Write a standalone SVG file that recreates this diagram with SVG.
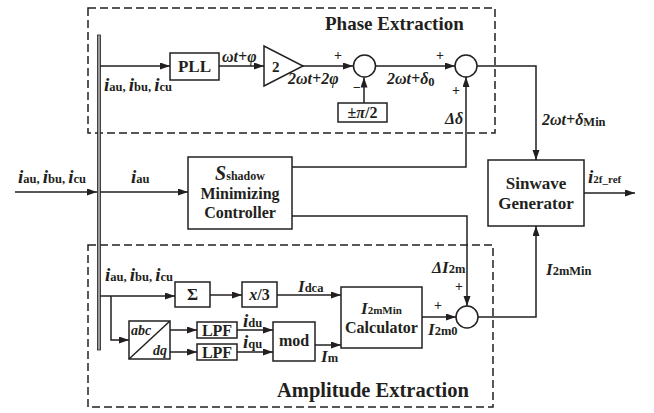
<svg xmlns="http://www.w3.org/2000/svg" width="654" height="413" viewBox="0 0 654 413" font-family="'Liberation Serif', 'Times New Roman', 'DejaVu Serif', serif">
<defs>
<marker id="arr" markerUnits="userSpaceOnUse" markerWidth="11" markerHeight="8" refX="10" refY="3.5" orient="auto">
<path d="M0,0 L10,3.5 L0,7 z" fill="#231f20"/>
</marker>
<style>
.blk{fill:#fff;stroke:#231f20;stroke-width:1.5}
.dash{fill:none;stroke:#231f20;stroke-width:1.5;stroke-dasharray:8 4}
.wire{fill:none;stroke:#231f20;stroke-width:1.5}
.arw{fill:none;stroke:#231f20;stroke-width:1.5;marker-end:url(#arr)}
text{font-family:'Liberation Serif','Times New Roman','DejaVu Serif',serif;font-weight:bold;fill:#231f20}
.t16{font-size:16px}
.t17{font-size:17px}
.c{text-anchor:middle}
.vi{font-style:italic;font-size:19px}
.vI{font-style:italic;font-size:17px}
.sb{font-size:12.5px;font-style:normal}
.gk{font-style:italic;font-size:16px}
.pm{font-size:14px}
</style>
</defs>
<rect id="phase-region" class="dash" x="88" y="8" width="407" height="125"/>
<text x="325" y="30" style="font-size:19px">Phase Extraction</text>
<rect id="amp-region" class="dash" x="88" y="245" width="405" height="162"/>
<text x="277" y="397" style="font-size:20.5px">Amplitude Extraction</text>

<g id="bus"><rect x="97.5" y="35" width="3" height="315" fill="#9a9a9a" stroke="#231f20" stroke-width="0.8"/></g>

<g id="connectors">
<path class="arw" d="M100,66 H170"/>
<path class="arw" d="M219,66 H264"/>
<path class="arw" d="M303,66 H353"/>
<path class="arw" d="M364,103 V77.5"/>
<path class="arw" d="M376,66 H455"/>
<path class="arw" d="M477,66 H536 V160"/>
<path class="arw" d="M15,192 H97"/>
<path class="arw" d="M100,192 H188"/>
<path class="arw" d="M292,167 H466 V77"/>
<path class="arw" d="M292,216 H467 V306"/>
<path class="arw" d="M584,193 H635"/>
<path class="arw" d="M100,296 H175"/>
<path class="arw" d="M210,295 H242"/>
<path class="arw" d="M277,295 H341"/>
<path class="arw" d="M111,296 V340 H129"/>
<path class="arw" d="M170,330 H197"/>
<path class="arw" d="M170,352 H197"/>
<path class="arw" d="M237,330 H273"/>
<path class="arw" d="M237,352 H273"/>
<path class="arw" d="M315,345 H341"/>
<path class="arw" d="M422,317 H456"/>
<path class="arw" d="M478,317 H536 V226"/>
</g>

<g id="pll"><rect class="blk" x="170" y="53" width="49" height="27"/><text class="t17 c" x="194.5" y="72">PLL</text></g>
<g id="gain"><polygon class="blk" points="264,46 264,86 303,66"/><text x="272" y="72" style="font-size:15px">2</text></g>
<g id="sum1"><circle class="blk" cx="364.5" cy="66" r="11"/></g>
<g id="pihalf"><rect class="blk" x="338" y="103" width="49" height="19"/><text class="t16 c" x="362.5" y="118">±<tspan font-style="italic">π</tspan>/2</text></g>
<g id="sum2"><circle class="blk" cx="466" cy="66" r="11"/></g>
<g id="ctrl"><rect class="blk" x="188" y="157" width="104" height="72"/>
<text class="c" x="240" y="180"><tspan style="font-style:italic;font-size:20px">S</tspan><tspan style="font-size:12px">shadow</tspan></text>
<text class="t16 c" x="240" y="199">Minimizing</text>
<text class="t16 c" x="240" y="218">Controller</text></g>
<g id="sinwave"><rect class="blk" x="488" y="160" width="96" height="66"/>
<text class="t17 c" x="536" y="189">Sinwave</text>
<text class="t17 c" x="536" y="209">Generator</text></g>
<g id="sigma"><rect class="blk" x="175" y="282" width="35" height="25"/><text class="t17 c" x="192.5" y="300">Σ</text></g>
<g id="div3"><rect class="blk" x="242" y="282" width="35" height="25"/><text class="t16 c" x="259.5" y="300"><tspan font-style="italic">x</tspan>/3</text></g>
<g id="abcdq"><rect class="blk" x="129" y="321" width="41" height="38"/><path class="wire" d="M129,359 L170,321"/>
<text x="131" y="335" style="font-size:14px;font-style:italic">abc</text><text x="153" y="355" style="font-size:14px;font-style:italic">dq</text></g>
<g id="lpf1"><rect class="blk" x="197" y="322" width="40" height="16"/><text class="t16 c" x="217" y="336">LPF</text></g>
<g id="lpf2"><rect class="blk" x="197" y="344" width="40" height="16"/><text class="t16 c" x="217" y="358">LPF</text></g>
<g id="mod"><rect class="blk" x="273" y="322" width="42" height="39"/><text class="t16 c" x="294" y="346">mod</text></g>
<g id="calc"><rect class="blk" x="341" y="287" width="81" height="61"/>
<text class="c" x="381.5" y="314"><tspan class="vI">I</tspan><tspan style="font-size:11px">2mMin</tspan></text>
<text class="t16 c" x="381.5" y="333">Calculator</text></g>
<g id="sum3"><circle class="blk" cx="467" cy="317" r="11"/></g>

<g id="labels">
<text x="104" y="91"><tspan class="vi">i</tspan><tspan class="sb">au, </tspan><tspan class="vi">i</tspan><tspan class="sb">bu, </tspan><tspan class="vi">i</tspan><tspan class="sb">cu</tspan></text>
<text x="222" y="62" class="gk">ωt+φ</text>
<text x="288" y="84" class="gk">2ωt+2φ</text>
<text x="334" y="60" class="pm">+</text>
<text x="353" y="92" class="pm">−</text>
<text x="387" y="84" class="gk">2ωt+δ<tspan class="sb" dy="2">0</tspan></text>
<text x="436" y="60" class="pm">+</text>
<text x="452" y="95" class="pm">+</text>
<text x="445" y="124" class="gk">Δδ</text>
<text x="542" y="125" class="gk">2ωt+δ<tspan class="sb" dy="1">Min</tspan></text>
<text x="18" y="183"><tspan class="vi">i</tspan><tspan class="sb">au, </tspan><tspan class="vi">i</tspan><tspan class="sb">bu, </tspan><tspan class="vi">i</tspan><tspan class="sb">cu</tspan></text>
<text x="131" y="183"><tspan class="vi">i</tspan><tspan class="sb">au</tspan></text>
<text x="588" y="183"><tspan class="vi">i</tspan><tspan style="font-size:11px">2f_ref</tspan></text>
<text x="105" y="281"><tspan class="vi">i</tspan><tspan class="sb">au, </tspan><tspan class="vi">i</tspan><tspan class="sb">bu, </tspan><tspan class="vi">i</tspan><tspan class="sb">cu</tspan></text>
<text x="298" y="292"><tspan class="vI">I</tspan><tspan class="sb">dca</tspan></text>
<text x="243" y="327"><tspan class="vi">i</tspan><tspan class="sb">du</tspan></text>
<text x="243" y="348"><tspan class="vi">i</tspan><tspan class="sb">qu</tspan></text>
<text x="321" y="362"><tspan class="vI">I</tspan><tspan class="sb">m</tspan></text>
<text x="434" y="310" class="pm">+</text>
<text x="428" y="335"><tspan class="vI">I</tspan><tspan class="sb">2m0</tspan></text>
<text x="432" y="273"><tspan class="gk">Δ</tspan><tspan class="vI">I</tspan><tspan class="sb">2m</tspan></text>
<text x="455" y="291" class="pm">+</text>
<text x="546" y="275"><tspan class="vI">I</tspan><tspan class="sb">2mMin</tspan></text>
</g>
</svg>
